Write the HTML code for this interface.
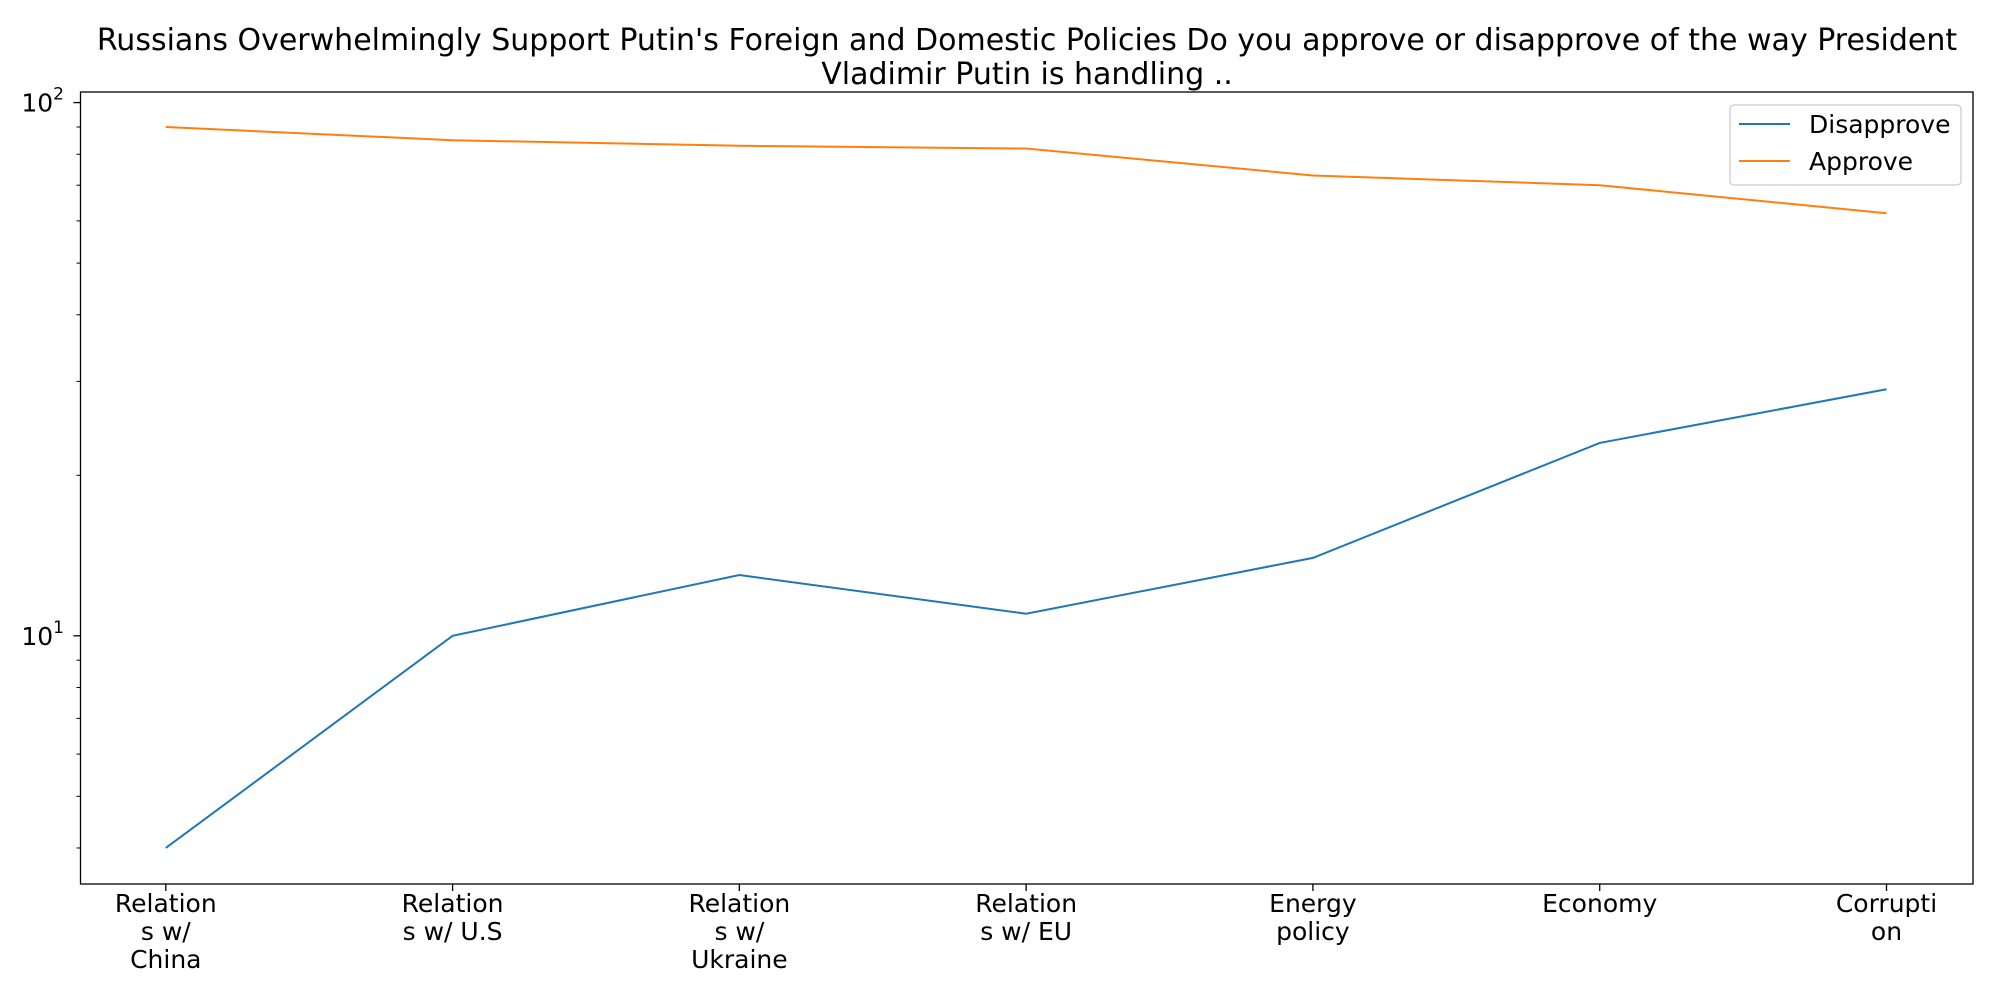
<!DOCTYPE html>
<html><head><meta charset="utf-8"><style>
body{margin:0;background:#fff;}
svg{font-family:"DejaVu Sans","Liberation Sans",sans-serif;}
</style></head><body>
<svg id="chart" width="2000" height="1000" xmlns="http://www.w3.org/2000/svg">
<rect width="2000" height="1000" fill="#fff"/>
<text x="1027" y="50" font-size="30" text-anchor="middle">Russians Overwhelmingly Support Putin's Foreign and Domestic Policies Do you approve or disapprove of the way President</text>
<text x="1027" y="84" font-size="30" text-anchor="middle">Vladimir Putin is handling ..</text>
<g id="axes"></g>
<g id="series"></g>
<rect x="80.5" y="92" width="1892.5" height="792" fill="none" stroke="#000" stroke-width="1.3"/>
<g>
<rect x="1730" y="105" width="231" height="80" rx="4" fill="#fff" stroke="#ccc" stroke-width="1.3"/>
<line x1="1739" y1="124" x2="1790" y2="124" stroke="#1f77b4" stroke-width="2"/>
<text x="1809" y="133" font-size="25">Disapprove</text>
<line x1="1739" y1="161" x2="1790" y2="161" stroke="#ff7f0e" stroke-width="2"/>
<text x="1809" y="170" font-size="25">Approve</text>
</g>
</svg>
<script>
const categories = [["Relation","s w/","China"],["Relation","s w/ U.S"],["Relation","s w/","Ukraine"],["Relation","s w/ EU"],["Energy","policy"],["Economy"],["Corrupti","on"]];
const disapprove = [4, 10, 13, 11, 14, 23, 29];
const approve = [90, 85, 83, 82, 73, 70, 62];
const majorTicks = [10, 100];
const minorTicks = [4,5,6,7,8,9,20,30,40,50,60,70,80,90];

const NS="http://www.w3.org/2000/svg";
const x0=165.8, x1=1886.5, yTop=92, yBot=884;
const y10=635.8, decade=533.2;
function xs(i){return x0+(x1-x0)*i/(categories.length-1);}
function ys(v){return y10-(Math.log10(v)-1)*decade;}
function mk(tag,attrs,parent){const e=document.createElementNS(NS,tag);for(const k in attrs)e.setAttribute(k,attrs[k]);parent.appendChild(e);return e;}
const axes=document.getElementById('axes'), ser=document.getElementById('series');
majorTicks.forEach(v=>{
  const y=ys(v);
  const t=mk('line',{x1:80.5-7,x2:80.5,y1:y,y2:y,stroke:'#000','stroke-width':1.3},axes);
  
  
  const tx=mk('text',{x:64,y:y+9,'font-size':25,'text-anchor':'end'},axes);
  
  
  tx.textContent='10';
  const sup=mk('tspan',{dy:-12,'font-size':17},tx);
  sup.textContent=String(Math.round(Math.log10(v)));
});
minorTicks.forEach(v=>{
  const y=ys(v);
  const t=mk('line',{x1:80.5-4,x2:80.5,y1:y,y2:y,stroke:'#000','stroke-width':1},axes);
  
  
});
categories.forEach((c,i)=>{
  const x=xs(i);
  const t=mk('line',{x1:x,x2:x,y1:yBot,y2:yBot+7,stroke:'#000','stroke-width':1.3},axes);
  
  
  c.forEach((ln,j)=>{
    const tx=mk('text',{x:x,y:912+j*28,'font-size':25,'text-anchor':'middle'},axes);
    
    
    tx.textContent=ln;
  });
});
function line(vals,color,name){
  const p=mk('polyline',{points:vals.map((v,i)=>xs(i)+','+ys(v)).join(' '),fill:'none',stroke:color,'stroke-width':2},ser);
  
  
}
line(disapprove,'#1f77b4','disapprove-line');
line(approve,'#ff7f0e','approve-line');
</script>
</body></html>
